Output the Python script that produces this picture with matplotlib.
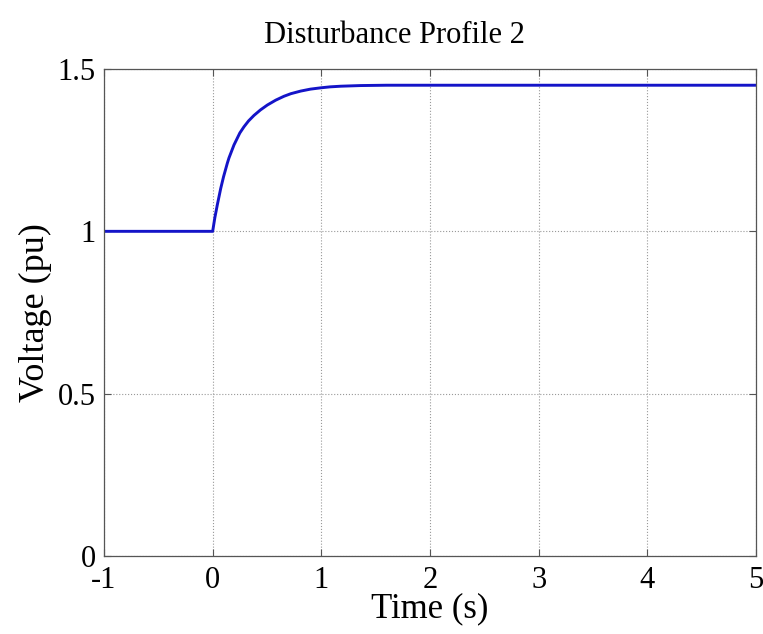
import matplotlib
matplotlib.use('Agg')
import matplotlib.pyplot as plt

# points
time_s = [-1.0, 0.0, 0.02, 0.043, 0.074, 0.1, 0.135, 0.15, 0.196, 0.25, 0.288,
          0.33, 0.38, 0.44, 0.503, 0.58, 0.656, 0.72, 0.81, 0.9, 0.994, 1.08,
          1.18, 1.36, 1.6, 2.0, 3.0, 4.0, 5.0]
voltage_pu = [1.0, 1.0, 1.042, 1.082, 1.132, 1.168, 1.210, 1.226, 1.266, 1.303,
              1.322, 1.340, 1.357, 1.374, 1.389, 1.404, 1.416, 1.424, 1.432,
              1.438, 1.442, 1.445, 1.447, 1.449, 1.45, 1.45, 1.45, 1.45, 1.45]

xticks = [-1, 0, 1, 2, 3, 4, 5]
yticks = [0, 0.5, 1, 1.5]

plt.rcParams['font.family'] = ['Liberation Serif', 'DejaVu Serif']

fig = plt.figure(figsize=(7.63, 6.34), dpi=100)
ax = fig.add_axes([104/763, 1 - 556/634, (756 - 104)/763, (556 - 69)/634])

ax.plot(time_s, voltage_pu, color='#1414c8', linewidth=2.1,
        solid_joinstyle='round')

ax.set_xlim(-1, 5)
ax.set_ylim(0, 1.5)
ax.set_xticks(xticks)
ax.set_yticks(yticks)
ax.set_xticklabels(['-1', '0', '1', '2', '3', '4', '5'])
ax.set_yticklabels(['0', '0.5', '1', '1.5'])

ax.grid(True, linestyle=':', color='#999999', linewidth=0.8)
for s in ax.spines.values():
    s.set_color('#555555')
    s.set_linewidth(0.9)
ax.tick_params(direction='in', top=True, right=True, length=5, width=0.8,
               color='#555555', labelsize=22)
ax.tick_params(axis='x', pad=7)
ax.tick_params(axis='y', pad=6)

ax.set_title('Disturbance Profile 2', fontsize=22, pad=19, x=0.445)
ax.set_xlabel('Time (s)', fontsize=25, labelpad=-2)
ax.set_ylabel('Voltage (pu)', fontsize=26, labelpad=4)

fig.savefig('out.png', dpi=100)
